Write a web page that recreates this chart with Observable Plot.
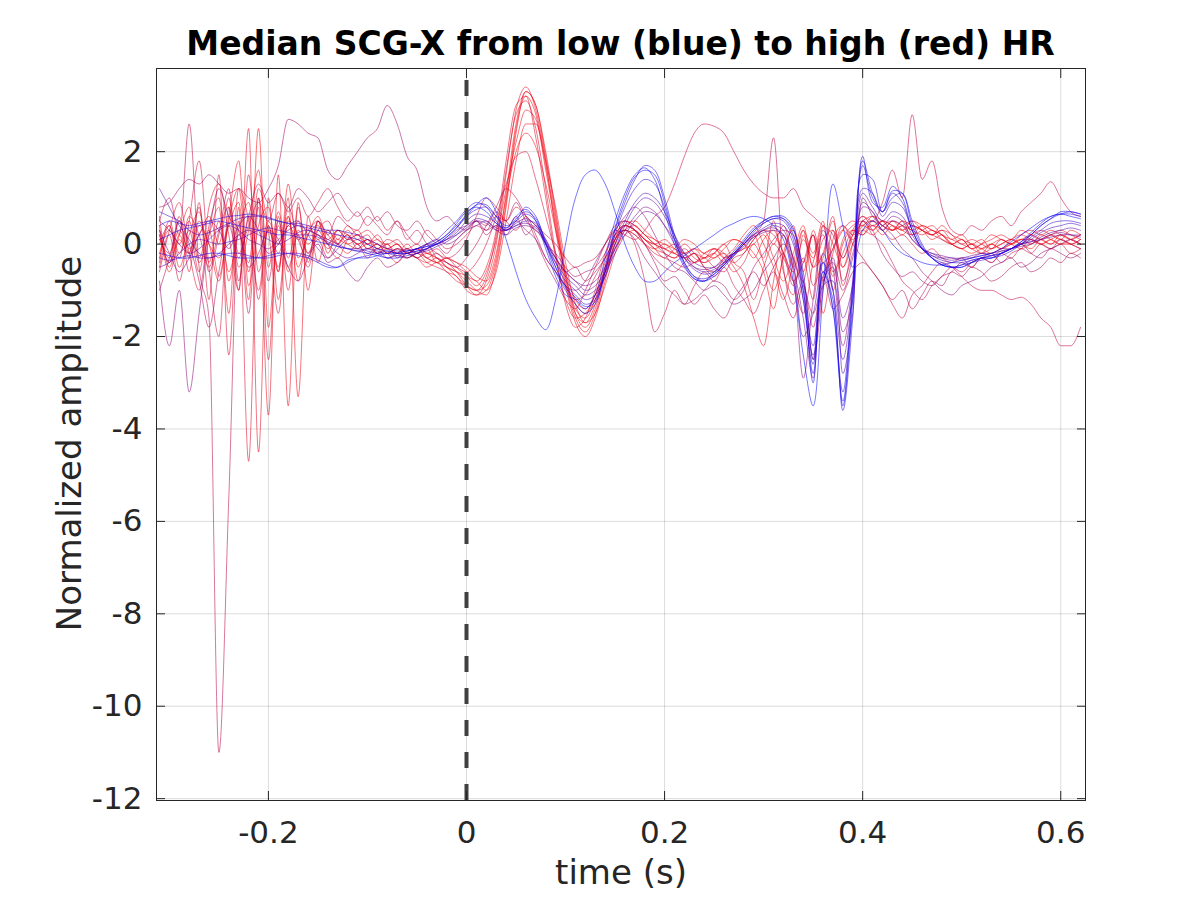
<!DOCTYPE html>
<html><head><meta charset="utf-8">
<script src="https://cdn.jsdelivr.net/npm/d3@7"></script>
<script src="https://cdn.jsdelivr.net/npm/@observablehq/plot@0.6"></script>
<style>
html,body{margin:0;padding:0;background:#fff;}
#wrap{position:relative;width:1200px;height:900px;font-family:"DejaVu Sans",sans-serif;}
#title{position:absolute;left:156px;width:929px;top:27px;text-align:center;font-weight:bold;font-size:33px;line-height:33px;color:#000;white-space:nowrap;}
#chart{position:absolute;left:0;top:60px;}
</style></head><body>
<div id="wrap"><div id="title">Median SCG-X from low (blue) to high (red) HR</div><div id="chart"></div></div>
<script>
const time = [-0.31,-0.30,-0.29,-0.28,-0.27,-0.26,-0.25,-0.24,-0.23,-0.22,
-0.21,-0.20,-0.19,-0.18,-0.17,-0.16,-0.15,-0.14,-0.13,-0.12,
-0.11,-0.10,-0.09,-0.08,-0.07,-0.06,-0.05,-0.04,-0.03,-0.02,
-0.01,0.00,0.01,0.02,0.03,0.04,0.05,0.06,0.07,0.08,
0.09,0.10,0.11,0.12,0.13,0.14,0.15,0.16,0.17,0.18,
0.19,0.20,0.21,0.22,0.23,0.24,0.25,0.26,0.27,0.28,
0.29,0.30,0.31,0.32,0.33,0.34,0.35,0.36,0.37,0.38,
0.39,0.40,0.41,0.42,0.43,0.44,0.45,0.46,0.47,0.48,
0.49,0.50,0.51,0.52,0.53,0.54,0.55,0.56,0.57,0.58,
0.59,0.60,0.61,0.62];

const s01 = [-0.2,-0.25,-0.3,-0.3,-0.25,-0.2,-0.2,-0.25,-0.3,-0.3,
-0.3,-0.25,-0.2,-0.2,-0.25,-0.3,-0.4,-0.5,-0.5,-0.35,
-0.3,-0.3,-0.25,-0.2,-0.2,-0.15,-0.1,-0.05,0.0,0.15,
0.35,0.6,0.85,1.0,0.7,0.1,-0.6,-1.2,-1.6,-1.85,
-1.2,0.0,1.0,1.5,1.6,1.3,0.7,0.0,-0.5,-0.8,
-0.8,-0.6,-0.4,-0.25,-0.1,0.05,0.2,0.35,0.45,0.55,
0.6,0.55,0.4,0.1,-0.8,-2.4,-3.5,-1.0,1.3,0.4,
-0.5,0.3,0.5,0.3,0.0,-0.2,-0.3,-0.4,-0.45,-0.45,
-0.4,-0.35,-0.3,-0.25,-0.2,-0.1,0.05,0.2,0.35,0.5,
0.6,0.65,0.6,0.55];
const s02 = [0.4,0.5,0.45,0.4,0.45,0.5,0.55,0.6,0.62,0.65,
0.62,0.58,0.5,0.45,0.4,0.35,0.3,0.25,0.2,0.15,
0.1,0.0,-0.1,-0.15,-0.2,-0.2,-0.15,-0.1,0.0,0.15,
0.35,0.65,0.85,0.85,0.6,0.35,0.6,0.75,0.5,-0.1,
-0.7,-1.1,-1.2,-1.4,-1.1,-0.3,0.5,1.1,1.5,1.65,
1.4,0.7,0.0,-0.5,-0.75,-0.8,-0.6,-0.4,-0.15,0.1,
0.35,0.5,0.6,0.55,0.2,-1.0,-2.8,-0.4,-1.4,-3.4,
-1.0,1.9,0.9,0.8,1.25,1.0,0.3,-0.1,-0.3,-0.45,
-0.5,-0.45,-0.35,-0.3,-0.25,-0.2,-0.1,0.05,0.25,0.45,
0.6,0.65,0.65,0.6];
const s03 = [-0.3,-0.35,-0.3,-0.25,-0.3,-0.3,-0.25,-0.2,-0.2,-0.25,
-0.3,-0.3,-0.25,-0.2,-0.2,-0.25,-0.35,-0.45,-0.5,-0.4,
-0.3,-0.25,-0.2,-0.15,-0.2,-0.2,-0.1,0.0,0.1,0.3,
0.5,0.75,0.9,0.8,0.5,0.3,0.5,0.8,0.6,0.0,
-0.6,-1.0,-1.3,-1.5,-1.3,-0.6,0.3,0.9,1.4,1.7,
1.6,1.0,0.2,-0.4,-0.7,-0.8,-0.7,-0.5,-0.25,0.0,
0.25,0.45,0.55,0.55,0.3,-0.6,-2.5,-0.2,-1.0,-3.6,
-1.6,1.5,1.4,0.7,1.0,1.1,0.5,0.0,-0.3,-0.45,
-0.5,-0.5,-0.4,-0.35,-0.3,-0.25,-0.15,0.0,0.2,0.4,
0.55,0.65,0.7,0.65];
const s04 = [0.7,0.6,0.5,0.3,0.2,0.25,0.35,0.45,0.55,0.6,
0.6,0.55,0.5,0.45,0.45,0.4,0.35,0.3,0.3,0.25,
0.2,0.1,0.0,-0.1,-0.15,-0.15,-0.1,-0.05,0.05,0.2,
0.4,0.6,0.75,0.8,0.6,0.4,0.5,0.65,0.5,0.0,
-0.5,-0.9,-1.1,-1.3,-1.2,-0.6,0.2,0.8,1.2,1.4,
1.3,0.8,0.1,-0.4,-0.7,-0.75,-0.65,-0.45,-0.2,0.05,
0.3,0.45,0.55,0.5,0.1,-1.2,-2.6,-0.6,-1.4,-3.2,
-0.8,1.7,1.0,0.7,1.1,0.9,0.3,-0.1,-0.3,-0.4,
-0.5,-0.45,-0.4,-0.3,-0.3,-0.2,-0.1,0.0,0.15,0.3,
0.45,0.5,0.5,0.45];
const s05 = [-0.5,-0.4,-0.2,0.0,0.1,0.05,0.0,0.05,0.1,0.2,
0.3,0.35,0.3,0.25,0.2,0.2,0.15,0.05,-0.05,-0.1,
-0.1,-0.15,-0.2,-0.2,-0.25,-0.2,-0.15,-0.1,0.0,0.1,
0.25,0.5,0.65,0.6,0.45,0.3,0.4,0.5,0.45,0.1,
-0.4,-0.8,-1.0,-1.2,-1.1,-0.7,0.0,0.5,0.9,1.1,
1.0,0.7,0.2,-0.3,-0.55,-0.65,-0.6,-0.45,-0.25,0.0,
0.2,0.35,0.45,0.4,0.0,-1.0,-2.2,-0.9,-0.8,-2.8,
-1.5,1.2,1.1,0.6,0.9,0.8,0.3,-0.1,-0.25,-0.35,
-0.4,-0.4,-0.35,-0.3,-0.25,-0.2,-0.1,0.0,0.1,0.25,
0.35,0.4,0.45,0.4];
const s06 = [1.2,0.8,0.4,0.1,-0.2,-0.3,-0.2,0.0,0.2,0.3,
0.2,0.1,0.0,0.1,0.25,0.3,0.2,0.1,0.0,-0.1,
-0.15,-0.1,-0.2,-0.3,-0.25,-0.3,-0.2,-0.15,-0.05,0.05,
0.2,0.4,0.55,0.5,0.35,0.3,0.45,0.55,0.4,0.0,
-0.4,-0.7,-0.9,-1.1,-1.0,-0.7,-0.1,0.4,0.8,1.0,
0.9,0.6,0.2,-0.2,-0.5,-0.6,-0.55,-0.4,-0.25,-0.05,
0.15,0.3,0.4,0.3,-0.4,-2.0,-1.5,-0.4,-1.0,-2.5,
-1.0,1.1,0.8,0.5,0.7,0.6,0.2,-0.1,-0.2,-0.3,
-0.35,-0.3,-0.3,-0.25,-0.2,-0.15,-0.1,0.0,0.05,0.15,
0.25,0.3,0.35,0.3];
const s07 = [0.3,-0.2,-0.6,-0.3,0.2,0.5,0.3,-0.1,0.4,0.6,
0.3,-0.2,0.0,0.4,0.5,0.2,-0.1,-0.3,-0.1,0.1,
0.0,-0.2,-0.1,-0.3,-0.2,-0.1,-0.2,0.0,0.1,0.0,
0.1,0.3,0.4,0.5,0.3,0.2,0.35,0.4,0.3,0.0,
-0.3,-0.6,-0.8,-0.9,-0.8,-0.5,-0.1,0.3,0.6,0.8,
0.7,0.4,0.0,-0.3,-0.5,-0.55,-0.5,-0.3,-0.2,0.0,
0.2,0.3,0.35,0.2,-0.5,-1.6,-2.9,-0.8,-0.5,-1.9,
-1.2,0.9,0.7,0.4,0.6,0.5,0.1,-0.1,-0.25,-0.3,
-0.3,-0.35,-0.3,-0.2,-0.25,-0.15,-0.1,-0.05,0.0,0.1,
0.2,0.25,0.2,0.2];
const s08 = [-0.8,-2.2,-1.0,-3.2,-1.5,0.2,1.2,0.6,0.3,-0.5,
-0.2,0.3,0.1,-0.5,-0.8,-0.3,0.0,-0.4,-0.3,-0.6,
-0.8,-0.5,-0.3,-0.5,-0.4,-0.2,-0.3,-0.1,0.0,0.1,
0.3,0.4,0.5,0.3,0.4,0.2,0.5,0.3,0.1,-0.3,
-0.6,-0.9,-1.0,-0.8,-0.4,0.0,0.3,0.6,0.8,0.6,
0.2,-0.2,-0.5,-0.6,-0.8,-1.0,-0.9,-1.1,-1.3,-1.2,
-1.0,-0.6,-0.3,0.0,-0.6,-2.9,-1.2,0.3,-0.5,-2.2,
-0.8,1.0,0.6,0.4,0.2,-0.1,-0.3,-0.6,-0.8,-1.0,
-1.1,-0.9,-0.8,-0.7,-0.5,-0.4,-0.3,-0.5,-0.4,-0.2,
-0.1,0.0,0.1,0.0];
const s09 = [0.8,0.9,1.2,1.4,1.3,1.5,1.3,1.1,1.2,1.0,
0.9,1.2,1.7,2.7,2.6,2.4,2.3,1.6,1.4,1.7,
2.0,2.3,2.5,3.0,2.6,1.9,1.6,0.8,0.5,0.6,
0.4,0.3,0.5,0.2,0.4,0.3,0.6,0.2,0.4,0.0,
-0.2,-0.5,-0.7,-0.6,-0.5,-0.2,0.2,0.3,0.1,-0.3,
-0.6,-0.9,-1.1,-1.3,-1.2,-1.0,-0.8,-0.9,-1.2,-1.0,
-0.5,-0.2,0.1,0.3,0.2,-0.8,-1.5,-0.7,-0.4,-1.0,
-0.3,0.5,0.3,-0.2,-0.5,-0.7,-0.6,-0.8,-0.9,-0.7,
-0.6,-0.4,-0.5,-0.3,-0.4,-0.2,-0.1,0.0,-0.2,-0.3,
-0.1,-0.2,-0.3,-0.2];
const s10 = [0.0,0.4,-0.3,0.6,0.2,-0.5,0.3,0.8,-0.2,0.4,
0.9,0.5,1.1,0.7,1.0,0.6,0.9,1.2,0.8,0.5,
0.7,0.4,0.6,0.3,0.5,0.2,0.0,0.3,0.1,-0.1,
0.0,0.2,0.4,0.3,0.6,0.5,0.8,0.6,0.4,0.2,
0.0,-0.3,-0.5,-0.4,-0.3,0.0,0.3,0.2,0.1,0.3,
0.6,0.8,1.3,1.9,2.4,2.6,2.55,2.4,2.0,1.6,
1.3,1.1,1.0,1.0,1.2,0.8,0.6,0.4,0.2,-0.3,
0.3,0.6,0.5,0.9,1.6,1.0,2.8,1.4,1.8,0.8,
0.3,0.2,0.4,0.3,0.5,0.6,0.4,0.7,0.9,1.1,
1.35,1.0,0.7,0.6];
const s11 = [0.5,1.0,0.2,2.6,-0.5,-1.6,-11.0,-5.5,0.5,-1.5,
1.0,-0.8,0.5,-0.5,0.2,-0.2,0.1,-0.3,0.0,0.2,
-0.1,0.1,-0.2,0.0,-0.3,-0.1,-0.2,0.0,-0.3,-0.4,
-0.5,-0.3,0.0,0.4,0.8,1.2,1.0,0.6,0.1,-0.4,
-0.8,-1.2,-1.4,-1.0,-0.5,0.0,0.4,0.5,0.3,0.0,
-0.3,-0.5,-0.6,-0.4,-0.2,-0.5,-0.7,-0.4,-0.2,-0.1,
0.2,0.5,2.3,-0.5,-1.3,-0.8,-2.5,-1.0,0.3,-0.8,
-0.2,0.5,0.2,0.0,-0.4,-0.8,-1.0,-1.2,-0.9,-0.7,
-0.5,-0.6,-0.4,-0.3,-0.2,-0.4,-0.2,-0.1,0.1,0.0,
-0.1,0.1,0.0,-0.1];
const s12 = [0.3,-0.4,0.5,-0.2,0.8,-0.6,0.2,1.2,-0.8,0.6,
-1.2,0.4,-0.5,0.8,0.1,-0.3,0.5,0.2,0.6,0.4,
0.3,0.6,0.4,0.2,0.5,0.1,0.3,0.0,-0.2,-0.3,
-0.2,0.1,0.6,1.0,0.8,0.5,0.3,0.6,0.2,-0.3,
-0.6,-0.9,-1.2,-1.1,-0.7,-0.3,0.1,0.3,0.0,-0.8,
-1.9,-1.5,-1.0,-1.3,-0.9,-0.6,-0.8,-0.5,-0.9,-1.2,
-1.5,-1.0,-0.6,-1.1,-1.6,-0.9,-1.8,-0.7,-1.4,-1.1,
-0.6,-0.4,-0.6,-0.9,-1.3,-1.6,-1.1,-0.9,-0.6,-0.4,
-0.5,-0.7,-0.9,-1.0,-1.0,-1.1,-1.2,-1.15,-1.3,-1.6,
-1.8,-2.2,-2.2,-1.8];
const s13 = [-0.5,0.2,-0.8,0.5,1.8,-0.5,-2.0,0.8,-1.0,1.5,
-0.6,0.3,-0.2,0.4,0.1,0.3,0.5,0.2,0.0,0.3,
0.1,0.2,-0.1,0.1,0.0,-0.2,-0.1,-0.3,-0.2,-0.4,
-0.5,-0.6,-0.4,0.0,0.6,1.3,1.9,2.0,1.4,0.6,
-0.2,-0.9,-1.3,-1.5,-1.2,-0.6,0.0,0.3,0.2,0.0,
-0.2,-0.3,-0.4,-0.5,-0.4,-0.3,-0.5,-0.6,-0.3,-0.2,
0.1,0.3,0.2,-0.2,-0.9,-0.3,-1.2,0.4,-0.6,-0.2,
0.3,0.2,0.4,0.3,0.1,0.2,0.0,-0.2,-0.1,-0.3,
-0.4,-0.3,-0.5,-0.3,-0.4,-0.2,-0.3,-0.1,-0.2,0.0,
-0.1,0.0,-0.2,-0.1];
const s14 = [0.2,-0.3,0.6,-0.6,0.9,-1.2,1.5,-2.4,0.8,-4.7,
1.0,-2.5,0.6,-1.0,0.8,-0.4,0.5,0.0,0.3,0.1,
0.2,-0.1,0.0,-0.2,-0.1,-0.3,-0.2,-0.4,-0.5,-0.6,
-0.8,-0.9,-1.0,-0.7,0.2,1.6,2.8,3.1,2.5,1.2,
-0.2,-1.3,-1.8,-1.6,-1.0,-0.2,0.3,0.5,0.4,0.2,
0.0,-0.2,-0.3,-0.1,-0.3,-0.4,-0.2,0.0,-0.4,-0.6,
-1.2,-0.5,0.0,-0.3,-0.8,-1.5,-0.4,0.2,-0.7,0.1,
0.4,0.5,0.3,0.5,0.4,0.2,0.4,0.3,0.2,0.1,
0.0,-0.1,0.0,-0.2,-0.1,0.0,0.1,0.0,0.2,0.1,
0.0,0.1,0.0,0.1];
const s15 = [-0.4,0.5,-0.2,0.3,-0.6,0.8,1.3,0.2,-1.0,2.5,
-4.5,1.0,-1.2,0.6,-0.8,0.4,0.1,0.3,0.0,-0.2,
0.0,-0.3,-0.1,-0.2,-0.4,-0.2,-0.3,-0.5,-0.4,-0.6,
-0.7,-1.0,-1.1,-0.8,0.0,1.5,2.9,3.4,2.9,1.8,
0.3,-0.9,-1.7,-2.0,-1.6,-0.8,0.1,0.5,0.4,0.2,
0.0,-0.1,-0.2,-0.3,-0.2,-0.3,-0.1,-0.2,-0.5,-0.9,
-1.6,-2.2,-0.8,0.2,-0.5,0.3,-0.9,-0.3,0.5,-0.5,
0.2,0.6,0.4,0.5,0.3,0.4,0.2,0.3,0.4,0.2,
0.1,0.0,-0.1,-0.2,0.0,-0.1,0.1,0.2,0.1,0.0,
0.1,0.2,0.1,0.0];
const s16 = [0.6,-0.5,0.2,-0.3,0.4,0.0,-0.8,0.5,1.2,-0.6,
0.8,-3.7,1.5,-3.5,0.9,-1.0,0.5,-0.2,0.3,0.1,
0.2,0.0,0.1,-0.1,0.0,-0.2,-0.1,-0.3,-0.4,-0.5,
-0.6,-0.8,-1.0,-1.1,-0.5,0.8,2.4,3.3,3.0,2.0,
0.7,-0.6,-1.5,-1.8,-1.4,-0.6,0.2,0.4,0.3,0.1,
-0.1,-0.2,-0.3,-0.2,-0.4,-0.3,-0.2,-0.4,-0.2,0.0,
0.2,-0.4,-1.0,-0.3,0.4,-0.6,0.2,-1.5,-0.2,0.3,
0.1,0.4,0.5,0.3,0.5,0.4,0.3,0.2,0.3,0.1,
0.0,0.1,-0.1,0.0,0.1,0.2,0.1,0.3,0.2,0.1,
0.2,0.3,0.2,0.1];
const s17 = [-0.2,0.3,0.0,0.5,-0.4,0.2,0.8,-1.5,1.2,0.5,
-1.0,0.4,-0.6,1.0,-3.3,0.6,-0.4,0.3,0.0,0.2,
0.0,0.1,-0.1,0.0,-0.2,-0.1,-0.3,-0.2,-0.3,-0.5,
-0.6,-0.7,-0.9,-0.6,0.1,1.2,2.2,2.9,2.7,1.6,
0.4,-0.7,-1.4,-1.6,-1.2,-0.5,0.1,0.4,0.3,0.1,
0.0,0.1,-0.1,-0.3,-0.2,-0.5,-0.6,-0.3,-0.1,0.2,
0.4,0.0,-0.5,-1.2,-0.4,0.3,-0.2,0.5,-1.0,0.0,
0.3,0.2,0.5,0.4,0.3,0.5,0.4,0.3,0.2,0.4,
0.2,0.1,0.0,-0.1,0.0,0.1,0.0,0.1,0.2,0.3,
0.2,0.1,0.3,0.2];
const s18 = [0.1,-0.2,0.3,-0.1,0.2,0.6,0.0,1.0,-0.5,0.3,
1.6,-0.5,0.7,-0.3,0.5,-0.2,0.3,0.0,0.2,0.0,
-0.1,0.0,-0.2,-0.1,-0.2,-0.3,-0.2,-0.3,-0.4,-0.3,
-0.4,-0.5,-0.7,-0.8,-0.2,1.0,2.0,2.4,2.1,1.3,
0.3,-0.6,-1.2,-1.4,-1.1,-0.6,-0.1,0.2,0.3,0.1,
0.0,-0.1,0.0,-0.2,-0.1,-0.3,-0.2,0.0,0.1,0.0,
-0.3,0.1,0.3,-0.2,-0.6,0.1,-0.3,0.4,0.0,-0.5,
0.0,0.3,0.4,0.2,0.4,0.3,0.5,0.4,0.2,0.3,
0.1,0.2,0.0,0.1,-0.1,0.0,0.1,0.0,-0.1,0.1,
0.0,0.2,0.1,0.0];
const s19 = [-0.3,0.4,-0.5,0.2,0.7,-0.4,0.5,-0.6,0.3,0.9,
-0.3,0.5,0.0,0.6,-0.5,0.2,0.4,0.1,0.3,0.2,
0.0,0.1,0.0,-0.1,0.0,-0.2,-0.1,-0.2,-0.3,-0.4,
-0.6,-0.9,-1.1,-1.0,-0.4,0.9,2.5,3.2,2.8,1.7,
0.5,-0.8,-1.6,-1.9,-1.5,-0.7,0.0,0.4,0.5,0.3,
0.1,0.0,-0.1,-0.2,-0.1,-0.2,-0.3,-0.1,0.1,0.0,
-0.2,-0.6,-1.4,-0.2,0.3,-0.4,0.2,-0.8,0.1,0.4,
0.2,0.3,0.2,0.4,0.5,0.3,0.2,0.4,0.3,0.2,
0.0,-0.1,0.0,-0.1,-0.2,-0.1,0.0,0.1,0.0,0.2,
0.1,0.0,0.1,0.2];
const s20 = [0.2,-0.4,0.1,-0.2,0.5,0.0,-0.3,0.4,0.9,-1.2,
2.5,-1.8,0.4,-0.6,0.3,0.0,0.2,-0.1,0.1,0.0,
0.1,-0.1,0.0,-0.2,-0.1,-0.2,-0.3,-0.4,-0.3,-0.5,
-0.7,-0.9,-1.0,-0.9,-0.3,1.1,2.6,3.3,3.0,1.9,
0.6,-0.7,-1.5,-1.7,-1.3,-0.5,0.1,0.3,0.2,0.0,
-0.1,0.0,-0.2,-0.3,-0.4,-0.2,-0.1,-0.3,-0.2,-0.1,
0.0,0.2,-0.3,-0.8,-0.2,0.4,-0.5,0.1,0.3,-0.3,
0.2,0.4,0.3,0.5,0.4,0.3,0.4,0.3,0.1,0.2,
0.0,-0.1,-0.2,-0.1,0.0,-0.1,0.0,0.1,0.1,0.0,
0.1,0.0,0.0,0.1];
const s21 = [0.1,0.2,0.3,0.35,0.4,0.45,0.5,0.45,0.4,0.35,
0.3,0.25,0.2,0.2,0.15,0.1,0.05,0.0,-0.05,-0.1,
-0.15,-0.2,-0.25,-0.3,-0.3,-0.25,-0.2,-0.1,0.05,0.2,
0.45,0.7,0.8,0.7,0.45,0.35,0.55,0.7,0.55,0.05,
-0.5,-0.95,-1.15,-1.35,-1.25,-0.5,0.35,1.0,1.45,1.6,
1.5,0.9,0.1,-0.45,-0.75,-0.8,-0.65,-0.45,-0.2,0.05,
0.3,0.5,0.6,0.6,0.35,-0.8,-3.0,-0.6,-1.2,-3.5,
-1.2,1.8,1.1,0.7,1.15,1.1,0.4,-0.05,-0.3,-0.45,
-0.5,-0.5,-0.4,-0.3,-0.3,-0.2,-0.1,0.05,0.2,0.4,
0.55,0.7,0.7,0.65];
const s22 = [0.5,0.3,0.0,-0.2,-0.1,0.1,0.3,0.4,0.3,0.1,
0.0,-0.1,0.1,0.3,0.4,0.3,0.2,0.0,-0.2,-0.3,
-0.2,-0.1,-0.15,-0.2,-0.1,-0.15,-0.1,0.0,0.0,0.1,
0.2,0.35,0.5,0.45,0.3,0.3,0.4,0.45,0.35,0.05,
-0.3,-0.6,-0.8,-1.0,-0.9,-0.6,-0.2,0.2,0.5,0.7,
0.65,0.4,0.1,-0.2,-0.4,-0.5,-0.5,-0.35,-0.2,0.0,
0.15,0.25,0.3,0.2,-0.3,-1.2,-2.4,-0.9,-0.3,-1.6,
-0.9,0.8,0.7,0.3,0.5,0.4,0.1,-0.1,-0.2,-0.25,
-0.3,-0.3,-0.25,-0.2,-0.2,-0.1,-0.1,0.0,0.05,0.1,
0.15,0.2,0.2,0.15];
const s23 = [-0.6,0.3,0.9,-0.2,-1.0,0.4,1.0,-0.8,0.2,-0.4,
1.2,0.3,-1.5,0.5,0.2,-0.5,0.3,0.5,0.1,0.4,
0.2,0.3,0.1,0.0,0.1,-0.1,0.0,-0.2,-0.1,-0.3,
-0.4,-0.6,-0.8,-0.5,0.3,1.8,3.0,3.2,2.3,1.0,
-0.3,-1.2,-1.6,-1.5,-1.1,-0.4,0.2,0.4,0.3,0.1,
-0.1,-0.3,-0.1,0.1,0.0,-0.2,-0.1,-0.3,-0.6,-0.4,
0.0,-0.3,0.5,-0.6,-1.1,0.2,-0.5,-0.2,0.6,-0.9,
0.0,0.5,0.6,0.4,0.3,0.4,0.5,0.3,0.2,0.3,
0.2,0.0,0.1,0.0,-0.1,0.1,0.0,0.2,0.3,0.2,
0.3,0.2,0.1,0.2];
const s24 = [0.4,-0.6,0.2,0.8,-0.3,0.3,-0.7,0.6,1.8,-0.9,
0.4,0.8,-0.6,1.3,-0.3,0.2,0.6,0.0,-0.3,0.1,
0.3,0.0,0.2,-0.1,-0.2,0.0,-0.2,-0.1,-0.4,-0.3,
-0.5,-0.7,-0.8,-1.0,-0.6,0.5,1.8,2.6,2.6,1.8,
0.8,-0.4,-1.3,-1.7,-1.5,-0.9,-0.2,0.3,0.4,0.2,
0.1,-0.1,-0.2,0.0,-0.2,-0.4,-0.3,-0.2,-0.4,-0.2,
0.1,0.3,0.0,0.4,-0.3,-0.8,0.3,-0.4,-0.1,0.3,
0.5,0.4,0.6,0.5,0.3,0.5,0.3,0.4,0.3,0.2,
0.0,0.1,-0.1,0.0,0.2,0.1,0.0,-0.1,0.0,0.1,
0.2,0.1,0.0,-0.1];
const s25 = [-1.0,-0.3,0.5,0.0,-0.8,-1.8,-0.6,0.4,-0.3,0.6,
1.3,0.9,1.1,0.8,1.2,1.0,0.7,0.9,1.1,0.8,
0.6,0.8,0.5,0.7,0.4,0.3,0.5,0.2,0.0,-0.2,
0.1,0.3,0.5,0.4,0.7,0.5,0.9,0.5,0.3,0.1,
-0.3,-0.6,-0.5,-0.8,-0.6,-0.3,0.1,0.4,0.3,0.0,
-0.4,-0.8,-0.7,-1.0,-1.3,-1.1,-1.4,-1.6,-1.2,-0.9,
-0.6,-0.9,-0.5,-0.2,-0.8,-0.4,0.2,-0.6,-0.1,0.4,
0.0,-0.3,-0.6,-0.9,-1.2,-1.0,-1.4,-1.1,-0.8,-0.9,
-0.6,-0.7,-0.5,-0.6,-0.8,-0.7,-0.5,-0.4,-0.6,-0.5,
-0.3,-0.4,-0.2,-0.3];

const series = [s01,s02,s03,s04,s05,s06,s07,s08,s09,s10,s11,s12,s13,s14,s15,s16,s17,s18,s19,s20,s21,s22,s23,s24,s25];
// relative heart-rate position of each series: 0 = lowest (blue), 1 = highest (red)
const hrLevel = [0.00,0.08,0.13,0.19,0.26,0.33,0.47,0.55,0.62,0.78,0.72,0.75,0.82,0.86,0.90,0.92,0.94,0.97,0.985,1.00,0.04,0.40,0.88,0.95,0.68];

const xTicks = [-0.2, 0, 0.2, 0.4, 0.6];
const xTickLabels = ["-0.2", "0", "0.2", "0.4", "0.6"];
const yTicks = [-12, -10, -8, -6, -4, -2, 0, 2];
const yTickLabels = ["-12", "-10", "-8", "-6", "-4", "-2", "0", "2"];
const xDomain = [-0.313, 0.625];
const yDomain = [-12.04, 3.8];
const xLabel = "time (s)";
const yLabel = "Normalized amplitude";

const ramp = d3.interpolateRgb("rgb(0,0,255)", "rgb(255,0,0)");
const order = d3.range(series.length).sort((a, b) => hrLevel[b] - hrLevel[a]); // red first, blue on top
const smoothRows = [], jaggedRows = [];
for (const k of order) {
  const c = ramp(hrLevel[k]);
  const target = hrLevel[k] < 0.5 ? smoothRows : jaggedRows;
  series[k].forEach((v, i) => target.push({t: time[i], v, k, c}));
}

const fmtX = d => xTickLabels[xTicks.indexOf(d)];
const fmtY = d => yTickLabels[yTicks.indexOf(d)];
const blank = () => "";
const ink = "#262626";

const chart = Plot.plot({
  width: 1200, height: 840,
  marginLeft: 156, marginRight: 115, marginTop: 8, marginBottom: 100,
  style: {fontFamily: '"DejaVu Sans", sans-serif', color: ink, background: "transparent", overflow: "visible"},
  x: {domain: xDomain, label: null},
  y: {domain: yDomain, label: null},
  color: {type: "identity"},
  marks: [
    Plot.gridX(xTicks, {stroke: "#000", strokeOpacity: 0.14, strokeWidth: 1}),
    Plot.gridY(yTicks, {stroke: "#000", strokeOpacity: 0.14, strokeWidth: 1}),
    Plot.line(jaggedRows, {x: "t", y: "v", z: "k", stroke: "c", strokeOpacity: 0.6, strokeWidth: 0.9, curve: "monotone-x"}),
    Plot.line(smoothRows, {x: "t", y: "v", z: "k", stroke: "c", strokeOpacity: 0.6, strokeWidth: 0.9, curve: "catmull-rom"}),
    Plot.ruleX([0], {y1: yDomain[0], y2: yDomain[1], stroke: "#404040", strokeWidth: 4, strokeDasharray: "16,16"}),
    Plot.frame({stroke: ink, strokeWidth: 1}),
    Plot.axisX(xTicks, {anchor: "bottom", tickSize: 0, tickPadding: 20, tickFormat: fmtX, fontSize: 31, fill: ink, label: null}),
    Plot.axisY(yTicks, {anchor: "left", tickSize: 0, tickPadding: 14, tickFormat: fmtY, fontSize: 31, fill: ink, label: null}),
    Plot.axisX(xTicks, {anchor: "bottom", tickSize: 9, dy: -9, tickFormat: blank, stroke: ink, label: null}),
    Plot.axisX(xTicks, {anchor: "top", tickSize: 9, dy: 9, tickFormat: blank, stroke: ink, label: null}),
    Plot.axisY(yTicks, {anchor: "left", tickSize: 9, dx: 9, tickFormat: blank, stroke: ink, label: null}),
    Plot.axisY(yTicks, {anchor: "right", tickSize: 9, dx: -9, tickFormat: blank, stroke: ink, label: null}),
    Plot.text([xLabel], {text: d => d, frameAnchor: "bottom", lineAnchor: "middle", dy: 73, fontSize: 34, fill: ink}),
    Plot.text([yLabel], {text: d => d, frameAnchor: "left", textAnchor: "middle", lineAnchor: "middle", rotate: -90, dx: -86, dy: 9, fontSize: 34, fill: ink})
  ]
});
document.getElementById("chart").appendChild(chart);
</script>
</body></html>
